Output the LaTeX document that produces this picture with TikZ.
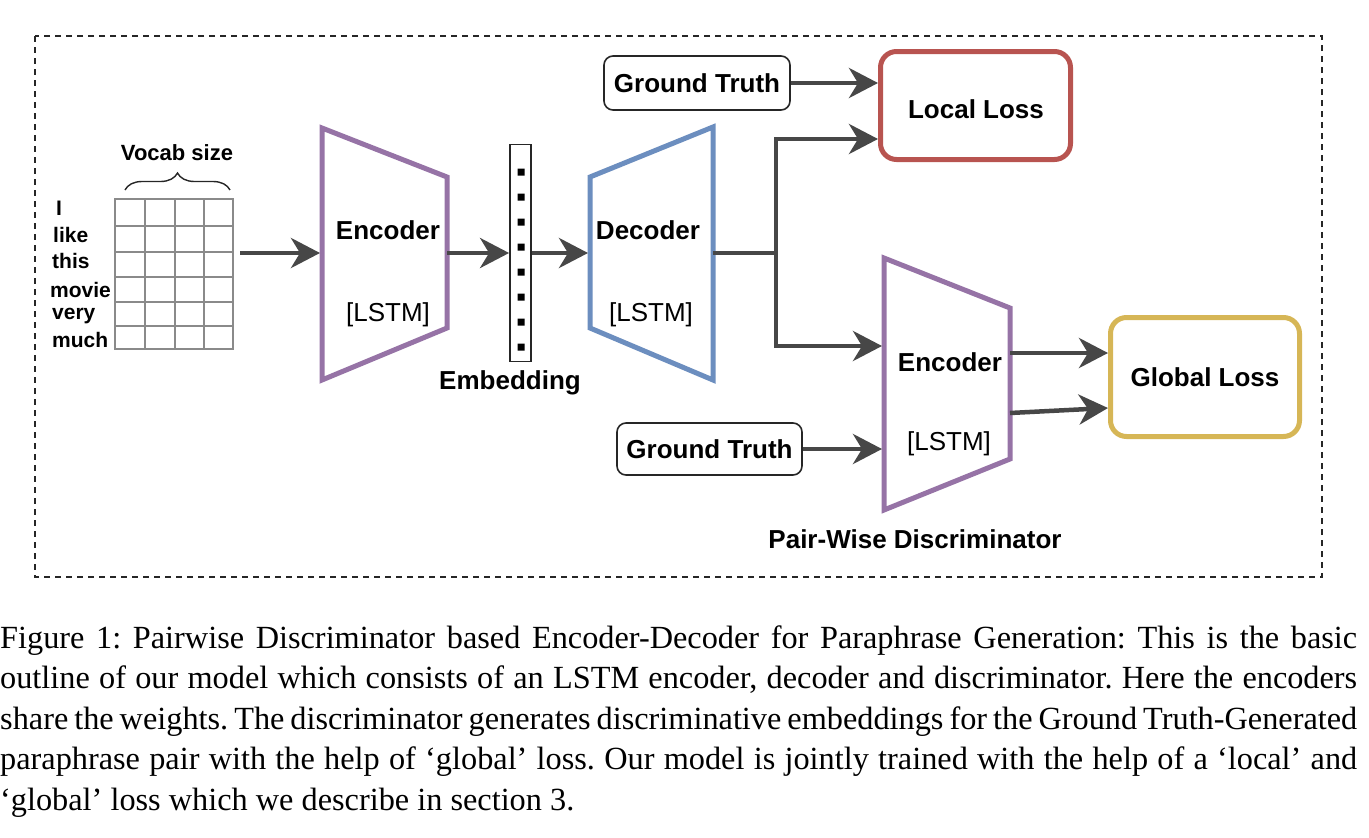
\documentclass[tikz,border=0pt]{standalone}
\usepackage{fontspec}
\setmainfont{Liberation Serif}
\newfontfamily\boxfont{Liberation Sans}
\usetikzlibrary{arrows.meta,decorations.pathreplacing}

\definecolor{encpurple}{HTML}{9673A6}
\definecolor{decblue}{HTML}{6C8EBF}
\definecolor{lossred}{HTML}{B85450}
\definecolor{lossyellow}{HTML}{D6B656}
\definecolor{arrowgray}{HTML}{474747}
\definecolor{gridgray}{HTML}{8A8A8A}

\frenchspacing

\begin{document}
\begin{tikzpicture}[x=1pt,y=-1pt,
  flow/.style={draw=arrowgray, line width=4.5pt, line join=miter,
    -{Stealth[length=29pt, width=30pt, inset=9pt]}},
  frame/.style={draw=black!85, line width=1.8pt, dash pattern=on 6pt off 5pt},
  cell/.style={draw=gridgray, line width=2pt},
  encline/.style={draw=encpurple, line width=5pt, line join=miter},
  decline/.style={draw=decblue, line width=5pt, line join=miter},
  boldtext/.style={font=\boxfont\bfseries\fontsize{26}{30}\selectfont, inner sep=0pt},
  plaintext/.style={font=\boxfont\fontsize{26}{30}\selectfont, inner sep=0pt},
  wordtext/.style={font=\boxfont\bfseries\fontsize{21}{24}\selectfont, inner sep=0pt, anchor=base west},
  gtbox/.style={boldtext, draw=black!85, line width=1.6pt, rounded corners=9pt,
    minimum width=186pt, minimum height=54pt},
  lossbox/.style={boldtext, line width=5pt, rounded corners=16pt},
  embedbox/.style={draw=black!85, line width=1.8pt, minimum width=21pt, minimum height=217pt, inner sep=0pt},
  captext/.style={font=\fontsize{32.3}{40.5}\selectfont, inner sep=0pt, anchor=base west}
]

\useasboundingbox (0,0) rectangle (1369,838);

%outer frame
\draw[frame] (35,36) rectangle (1322,577);

%one-hot input
\draw[cell] (115,199) rectangle (233,349);
\draw[cell] (145,199) -- (145,349);
\draw[cell] (175,199) -- (175,349);
\draw[cell] (204,199) -- (204,349);
\draw[cell] (115,226) -- (233,226);
\draw[cell] (115,252) -- (233,252);
\draw[cell] (115,277) -- (233,277);
\draw[cell] (115,302) -- (233,302);
\draw[cell] (115,326) -- (233,326);
\draw[black!85, line width=1.4pt, decorate, decoration={brace, amplitude=17pt}] (125,190) -- (230,190);
\node[boldtext, font=\boxfont\bfseries\fontsize{22}{26}\selectfont] (vocab) at (177,153) {Vocab size};
\coordinate (gridout) at (240,253);

%words of the sentence
\node[wordtext] (w1) at (56,215) {I};
\node[wordtext] (w2) at (53,242) {like};
\node[wordtext] (w3) at (52,268) {this};
\node[wordtext] (w4) at (50,297) {movie};
\node[wordtext] (w5) at (52,319) {very};
\node[wordtext] (w6) at (52,347) {much};

%encoder
\draw[encline] (322,128) -- (447,177) -- (447,328) -- (322,380) -- cycle;
\node[boldtext, anchor=base] (encAname) at (388,239) {Encoder};
\node[plaintext, anchor=base] (encAlstm) at (388,321) {[LSTM]};
\coordinate (encAin) at (320,253);
\coordinate (encAout) at (447,253);

%embedding
\node[embedbox] (embed) at (520.5,253) {};
\fill[black] (517.5,168.5) rectangle ++(7,7) (517.5,193.5) rectangle ++(7,7)
  (517.5,218.5) rectangle ++(7,7) (517.5,243.5) rectangle ++(7,7)
  (517.5,268.5) rectangle ++(7,7) (517.5,293.5) rectangle ++(7,7)
  (517.5,318.5) rectangle ++(7,7) (517.5,343.5) rectangle ++(7,7);
\node[boldtext, anchor=base] (embedname) at (510,389) {Embedding};

%decoder
\draw[decline] (590,177) -- (713,127) -- (713,380) -- (590,328) -- cycle;
\node[boldtext, anchor=base] (decAname) at (648,239) {Decoder};
\node[plaintext, anchor=base] (decAlstm) at (651,321) {[LSTM]};
\coordinate (decAin) at (588,253);
\coordinate (decAout) at (713,253);
\coordinate (fork) at (776,253);

%ground truth and losses
\node[gtbox] (gtA) at (697,83) {Ground Truth};
\node[gtbox, minimum width=185pt, minimum height=52pt] (gtB) at (709.5,449) {Ground Truth};
\node[lossbox, draw=lossred, minimum width=190pt, minimum height=108pt] (locloss) at (975.5,105.5) {};
\node[boldtext] (loclossname) at (976,109) {Local Loss};
\node[lossbox, draw=lossyellow, minimum width=189pt, minimum height=119pt] (globloss) at (1205,377) {Global Loss};

%discriminator encoder
\draw[encline] (884,258) -- (1010,308) -- (1010,459) -- (884,510) -- cycle;
\node[boldtext, anchor=base] (encBname) at (950,371) {Encoder};
\node[plaintext, anchor=base] (encBlstm) at (949,450) {[LSTM]};
\node[boldtext, anchor=base] (pairname) at (915,548) {Pair-Wise Discriminator};
\coordinate (encBin) at (882,346);
\coordinate (encBgt) at (882,449);
\coordinate (encBoutA) at (1010,353);
\coordinate (encBoutB) at (1010,413);

%arrows
\draw[flow] (gridout) -- (encAin);
\draw[flow] (encAout) -- (embed.west);
\draw[flow] (embed.east) -- (decAin);
\draw[flow] (gtA) -- (gtA -| locloss.west);
\draw[flow] (decAout) -- (fork) |- (locloss.west |- 0,139);
\draw[flow] (fork) |- (encBin);
\draw[flow] (gtB) -- (encBgt);
\draw[flow] (encBoutA) -- (encBoutA -| globloss.west);
\draw[flow] (encBoutB) -- (globloss.west |- 0,408);

%caption
\node[captext] (cap1) at (0,648) {\makebox[1357pt][s]{Figure 1: Pairwise Discriminator based Encoder-Decoder for Paraphrase Generation: This is the basic}};
\node[captext] (cap2) at (0,688.5) {\makebox[1357pt][s]{outline of our model which consists of an LSTM encoder, decoder and discriminator. Here the encoders}};
\node[captext] (cap3) at (0,729) {\makebox[1357pt][s]{share the weights. The discriminator generates discriminative embeddings for the Ground Truth-Generated}};
\node[captext] (cap4) at (0,769.5) {\makebox[1357pt][s]{paraphrase pair with the help of ‘global’ loss. Our model is jointly trained with the help of a ‘local’ and}};
\node[captext] (cap5) at (0,810) {‘global’ loss which we describe in section 3.};

\end{tikzpicture}
\end{document}
